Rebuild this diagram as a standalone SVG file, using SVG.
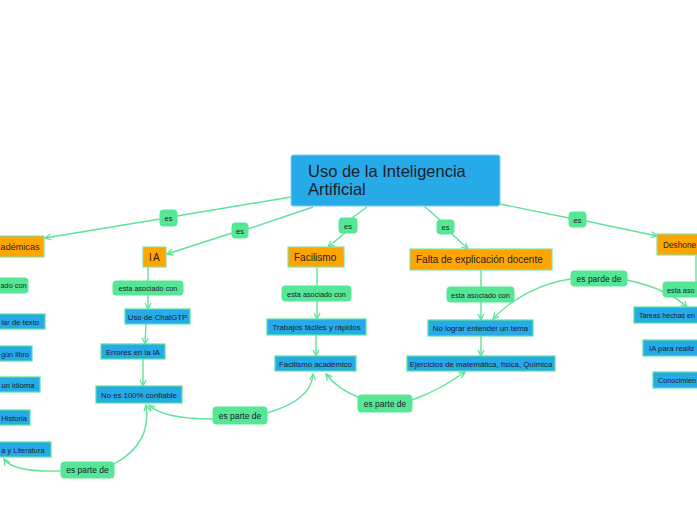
<svg xmlns="http://www.w3.org/2000/svg" width="697" height="520" viewBox="0 0 697 520">
<defs>
<style>
text{font-family:"Liberation Sans",Arial,sans-serif;fill:#1c1c2b}
.root{fill:#27aae8;stroke:#7fd0f3;stroke-width:1}
.main{fill:#ffa500;stroke:#86e3a2;stroke-width:1.2}
.sub{fill:#27aae8;stroke:#5ce39b;stroke-width:1.2}
.lab{fill:#55e796;stroke:#55e796;stroke-width:1}
.c{fill:none;stroke:#5de39a;stroke-width:1.4}
.t16{font-size:16.5px}
.t10{font-size:10px}
.t8{font-size:7.8px}
.t7{font-size:7.3px}
.tp{font-size:8.5px}
.tes{font-size:7.5px}
</style>
<marker id="ah" viewBox="0 0 8 8" refX="7" refY="4" markerWidth="8" markerHeight="8" orient="auto" markerUnits="userSpaceOnUse">
<path d="M1,1 L7,4 L1,7" fill="none" stroke="#5de39a" stroke-width="1.3"/>
</marker>
</defs>
<rect width="697" height="520" fill="#ffffff"/>
<g id="connectors">
<path class="c" d="M291,197 L177,216"/>
<path class="c" d="M160,219 L45,238" marker-end="url(#ah)"/>
<path class="c" d="M313,207 L248,229"/>
<path class="c" d="M232,233 L167,254" marker-end="url(#ah)"/>
<path class="c" d="M367,207 L352,218"/>
<path class="c" d="M345,233 L328,247" marker-end="url(#ah)"/>
<path class="c" d="M424,206 L440,220"/>
<path class="c" d="M452,234 L468,249" marker-end="url(#ah)"/>
<path class="c" d="M500,204 L569,218"/>
<path class="c" d="M586,221 L657,236" marker-end="url(#ah)"/>
<path class="c" d="M148,267 L148,281"/>
<path class="c" d="M148,295 L148,309" marker-end="url(#ah)"/>
<path class="c" d="M146,324 L145,344" marker-end="url(#ah)"/>
<path class="c" d="M143,359 L143,386" marker-end="url(#ah)"/>
<path class="c" d="M317,267 L317,286"/>
<path class="c" d="M317,301 L317,319" marker-end="url(#ah)"/>
<path class="c" d="M316,335 L316,356" marker-end="url(#ah)"/>
<path class="c" d="M481,270 L481,287"/>
<path class="c" d="M481,302 L481,320" marker-end="url(#ah)"/>
<path class="c" d="M481,336 L481,356" marker-end="url(#ah)"/>
<path class="c" d="M696,255 L696,283"/>
<path class="c" d="M213,419 C180,419 158,414 149,405" marker-end="url(#ah)"/>
<path class="c" d="M267,413 C295,405 312,393 313,374" marker-end="url(#ah)"/>
<path class="c" d="M358,397 C345,392 333,383 326,374" marker-end="url(#ah)"/>
<path class="c" d="M412,400 C435,392 450,382 465,372" marker-end="url(#ah)"/>
<path class="c" d="M61,471 C30,472 10,468 4,459" marker-end="url(#ah)"/>
<path class="c" d="M114,464 C140,450 150,430 146,405" marker-end="url(#ah)"/>
<path class="c" d="M571,279 C540,283 510,300 493,319" marker-end="url(#ah)"/>
<path class="c" d="M627,280 C650,285 672,293 687,307" marker-end="url(#ah)"/>
</g>
<g id="root"><rect class="root" x="291" y="155" width="209" height="51" rx="2"/><text class="t16" x="308" y="177">Uso de la Inteligencia</text><text class="t16" x="308" y="195">Artificial</text></g>
<g id="n-academicas"><rect class="main" x="-5" y="236" width="49" height="21"/><text x="39.5" y="250" text-anchor="end" style="font-size:9.1px">adémicas</text></g>
<g id="n-ia"><rect class="main" x="143" y="247" width="23" height="20"/><text class="t10" x="155" y="261" text-anchor="middle" letter-spacing="1.2">IA</text></g>
<g id="n-facilismo"><rect class="main" x="288" y="247" width="56" height="20"/><text class="t10" x="294" y="261">Facilismo</text></g>
<g id="n-falta"><rect class="main" x="410" y="249" width="142" height="21"/><text class="t10" x="416" y="263">Falta de explicación docente</text></g>
<g id="n-deshone"><rect class="main" x="657" y="234" width="45" height="21"/><text x="663" y="248" style="font-size:8.3px">Deshone</text></g>
<g id="l-es1"><rect class="lab" x="160" y="210" width="17" height="16" rx="3"/><text class="tes" x="168.5" y="221" text-anchor="middle">es</text></g>
<g id="l-es2"><rect class="lab" x="232" y="223" width="16" height="15" rx="3"/><text class="tes" x="240" y="233.5" text-anchor="middle">es</text></g>
<g id="l-es3"><rect class="lab" x="339" y="218" width="18" height="15" rx="3"/><text class="tes" x="348" y="228.5" text-anchor="middle">es</text></g>
<g id="l-es4"><rect class="lab" x="437" y="220" width="17" height="14" rx="3"/><text class="tes" x="445.5" y="230" text-anchor="middle">es</text></g>
<g id="l-es5"><rect class="lab" x="569" y="212" width="17" height="15" rx="3"/><text class="tes" x="577.5" y="222.5" text-anchor="middle">es</text></g>
<g id="l-asoc0"><rect class="lab" x="-5" y="278" width="33" height="15" rx="3"/><text class="t7" x="26.5" y="288" text-anchor="end">ado con</text></g>
<g id="l-asoc1"><rect class="lab" x="113" y="281" width="70" height="14" rx="3"/><text class="t7" x="148" y="291" text-anchor="middle">esta asociado con</text></g>
<g id="l-asoc2"><rect class="lab" x="282" y="286" width="69" height="15" rx="3"/><text class="t7" x="316.5" y="296.5" text-anchor="middle">esta asociado con</text></g>
<g id="l-asoc3"><rect class="lab" x="447" y="287" width="67" height="15" rx="3"/><text class="t7" x="480.5" y="297.5" text-anchor="middle">esta asociado con</text></g>
<g id="l-asoc4"><rect class="lab" x="663" y="282" width="40" height="15" rx="3"/><text class="t7" x="667" y="292.5">esta aso</text></g>
<g id="b-texto"><rect class="sub" x="-5" y="314" width="50" height="15"/><text x="39" y="324.5" text-anchor="end" style="font-size:7.6px">iar de texto</text></g>
<g id="b-libro"><rect class="sub" x="-5" y="346" width="37" height="15"/><text x="29" y="356.5" text-anchor="end" style="font-size:7.3px">gún libro</text></g>
<g id="b-idioma"><rect class="sub" x="-5" y="377" width="45" height="15"/><text x="34.5" y="387.5" text-anchor="end" style="font-size:7.6px">un idioma</text></g>
<g id="b-historia"><rect class="sub" x="-5" y="410" width="35" height="15"/><text x="27" y="420.5" text-anchor="end" style="font-size:7.6px">Historia</text></g>
<g id="b-literatura"><rect class="sub" x="-5" y="442" width="56" height="15"/><text x="44.5" y="452.5" text-anchor="end" style="font-size:7.4px">a y Literatura</text></g>
<g id="b-chatgtp"><rect class="sub" x="125" y="309" width="65" height="15"/><text class="t8" x="157.5" y="319.5" text-anchor="middle">Uso de ChatGTP</text></g>
<g id="b-errores"><rect class="sub" x="101" y="344" width="64" height="15"/><text class="t8" x="133" y="354.5" text-anchor="middle">Errores en la IA</text></g>
<g id="b-confiable"><rect class="sub" x="96" y="386" width="86" height="17"/><text class="t8" x="139" y="397.5" text-anchor="middle">No es 100% confiable</text></g>
<g id="b-trabajos"><rect class="sub" x="267" y="319" width="99" height="16"/><text class="t8" x="316.5" y="330" text-anchor="middle">Trabajos fáciles y rápidos</text></g>
<g id="b-facacad"><rect class="sub" x="275" y="356" width="81" height="15"/><text class="t8" x="315.5" y="366.5" text-anchor="middle">Facilismo académico</text></g>
<g id="b-nolograr"><rect class="sub" x="428" y="320" width="105" height="16"/><text class="t8" x="480.5" y="331" text-anchor="middle">No lograr entender un tema</text></g>
<g id="b-ejercicios"><rect class="sub" x="407" y="356" width="148" height="15"/><text class="t8" x="481" y="366.5" text-anchor="middle">Ejercicios de matemática, física, Química</text></g>
<g id="b-tareas"><rect class="sub" x="634" y="307" width="70" height="16"/><text x="639" y="318" style="font-size:7.1px">Tareas hechas en</text></g>
<g id="b-iapara"><rect class="sub" x="643" y="340" width="60" height="16"/><text class="t8" x="649" y="351">IA para realiz</text></g>
<g id="b-conoc"><rect class="sub" x="653" y="372" width="50" height="16"/><text x="658" y="383" style="font-size:7.2px">Conocimien</text></g>
<g id="l-parte1"><rect class="lab" x="213" y="407" width="54" height="17" rx="3"/><text class="tp" x="240" y="418.5" text-anchor="middle">es parte de</text></g>
<g id="l-parte2"><rect class="lab" x="358" y="395" width="54" height="17" rx="3"/><text class="tp" x="385" y="406.5" text-anchor="middle">es parte de</text></g>
<g id="l-parte3"><rect class="lab" x="61" y="462" width="53" height="16" rx="3"/><text class="tp" x="87.5" y="473" text-anchor="middle">es parte de</text></g>
<g id="l-parde"><rect class="lab" x="571" y="271" width="56" height="15" rx="3"/><text class="tp" x="599" y="281.5" text-anchor="middle">es parde de</text></g>
</svg>
